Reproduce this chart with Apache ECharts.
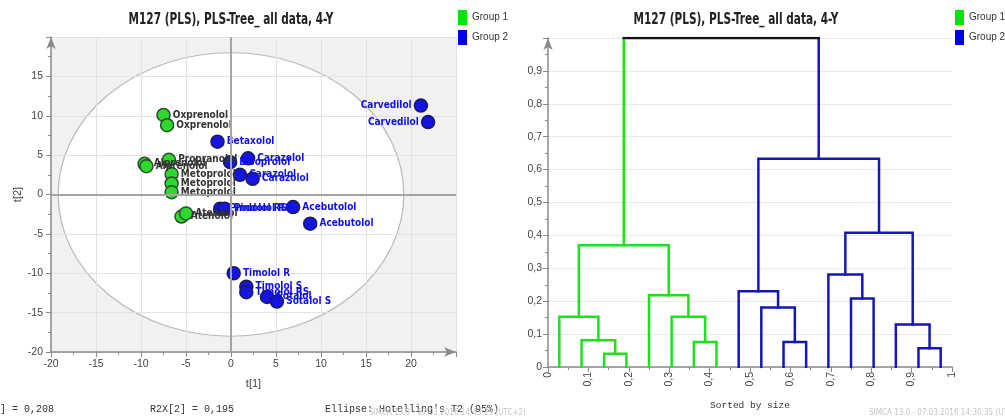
<!DOCTYPE html>
<html><head><meta charset="utf-8">
<script src="https://cdn.jsdelivr.net/npm/echarts@6/dist/echarts.min.js"></script>
<style>html,body{margin:0;padding:0;background:#fff}#c{width:1005px;height:419px}</style>
</head><body><div id="c"></div>
<script>
// ---- Score plot data (t[1], t[2]) ----
var g1Names = ['Oxprenolol','Oxprenolol','Alprenolol','Alprenolol','Propranolol','Metoprolol','Metoprolol','Metoprolol','Atenolol','Atenolol'];
var g1T1 = [-7.5,-7.1,-9.6,-9.4,-6.9,-6.6,-6.6,-6.6,-5.5,-5.0];
var g1T2 = [10.1,8.8,3.9,3.6,4.4,2.6,1.4,0.3,-2.8,-2.4];
var g2Names = ['Carvedilol','Carvedilol','Betaxolol','Bisoprolol','Carazolol','Carazolol','Carazolol','Pindolol RS','Pindolol RS','Acebutolol','Acebutolol','Timolol R','Timolol S','Timolol RS','Sotalol','Sotalol S'];
var g2T1 = [21.1,21.9,-1.5,-0.1,1.9,1.0,2.4,-1.2,-0.7,6.9,8.8,0.3,1.7,1.7,4.0,5.1];
var g2T2 = [11.3,9.2,6.7,4.1,4.6,2.5,2.0,-1.8,-1.8,-1.6,-3.7,-10.0,-11.7,-12.4,-13.0,-13.6];
var ellipseCenter = [0,0];
var ellipseRadii = [19.2,18];
// ---- Dendrogram data ----
var leafX = [0.028,0.083,0.139,0.194,0.25,0.306,0.361,0.417,0.472,0.528,0.583,0.639,0.694,0.75,0.806,0.861,0.917,0.972];
// [childA, childB, height, group] ; new node index = 18 + row
var merges = [
  [2,3,0.040,1],[1,18,0.081,1],[0,19,0.153,1],[6,7,0.076,1],[5,21,0.153,1],[4,22,0.218,1],[20,23,0.370,1],
  [10,11,0.076,2],[9,25,0.181,2],[8,26,0.230,2],[13,14,0.208,2],[12,28,0.281,2],[16,17,0.057,2],[15,30,0.129,2],
  [29,31,0.408,2],[27,32,0.633,2],[24,33,1.0,0]
];
var titleText = 'M127 (PLS), PLS-Tree_ all data, 4-Y';

var FONT = "'Liberation Sans',Arial,sans-serif";
var CFONT = "'DejaVu Sans Condensed','Liberation Sans',sans-serif";
var MONO = "'Liberation Mono','DejaVu Sans Mono',monospace";
var GREEN = '#1fe01f', BLUE = '#1616b8';

var nodeX = leafX.slice(), nodeH = leafX.map(function(){return 0;}), nodeG = leafX.map(function(_,i){return i<8?1:2;});
var dendroLines = {1:[],2:[],0:[]};
merges.forEach(function(m){
  var a=m[0], b=m[1], h=m[2];
  var xa=nodeX[a], xb=nodeX[b];
  if (m[3]===0) {
    dendroLines[nodeG[a]].push({coords:[[xa,nodeH[a]],[xa,h]]});
    dendroLines[nodeG[b]].push({coords:[[xb,nodeH[b]],[xb,h]]});
    dendroLines[0].push({coords:[[xa,h],[xb,h]]});
  } else {
    dendroLines[m[3]].push({coords:[[xa,nodeH[a]],[xa,h],[xb,h],[xb,nodeH[b]]]});
  }
  nodeX.push((xa+xb)/2); nodeH.push(h); nodeG.push(m[3]);
});

function pts(n,x,y){return n.map(function(nm,i){return {name:nm,value:[x[i],y[i]]};});}
var g1Data = pts(g1Names,g1T1,g1T2);
var g2Data = pts(g2Names,g2T1,g2T2).map(function(d){
  if (d.name==='Carvedilol') d.label={position:'left'};
  return d;
});

function comma(v){return String(+v.toFixed(1)).replace('.',',');}
var axisLbl = {color:'#444',fontSize:10.5,fontFamily:FONT};
var legendData = [{name:'Group 1',itemStyle:{color:'#00e600',borderWidth:0}},{name:'Group 2',itemStyle:{color:'#0000e6',borderWidth:0}}];

// horizontally condensed title (the reference is squeezed)
var TFONT = "bold 16px 'DejaVu Sans'";
var mctx = document.createElement('canvas').getContext('2d');
mctx.font = TFONT;
var titleScale = 205 / mctx.measureText(titleText).width;
function titleEl(cx){
  return {type:'text',x:cx,y:20,scaleX:titleScale,scaleY:1,
    style:{text:titleText,font:TFONT,fill:'#222',align:'center',verticalAlign:'middle'}};
}
function legendOpt(left){
  return {left:left,top:10,padding:0,orient:'vertical',icon:'rect',itemWidth:9,itemHeight:15,itemGap:5,
    data:legendData,textStyle:{fontSize:10,color:'#333',fontFamily:FONT}};
}

var chart = echarts.init(document.getElementById('c'),null,{renderer:'canvas'});
chart.setOption({
  animation:false,
  legend:[legendOpt(458),legendOpt(955)],
  grid:[
    {left:51,top:37,width:405,height:315,show:true,backgroundColor:'#f1f1f1',borderWidth:0,z:-5},
    {left:548,top:38,width:404,height:329,show:false}
  ],
  xAxis:[
    {gridIndex:0,type:'value',min:-20,max:25,interval:5,
     name:'t[1]',nameLocation:'middle',nameGap:26,nameTextStyle:{color:'#444',fontSize:11,fontFamily:FONT},
     axisLine:{show:true,onZero:false,symbol:['none','arrow'],symbolSize:[7,12],lineStyle:{color:'#8a8a8a',width:1.5}},
     axisTick:{show:true,length:5,lineStyle:{color:'#8a8a8a'}},minorTick:{show:true,splitNumber:2,length:3,lineStyle:{color:'#8a8a8a'}},
     axisLabel:Object.assign({margin:7,formatter:function(v){return v>20?'':String(v);}},axisLbl),
     splitLine:{show:true,lineStyle:{color:'#e2e2e2',width:1}}},
    {gridIndex:1,type:'value',min:0,max:1,interval:0.1,
     name:'Sorted by size',nameLocation:'middle',nameGap:33,nameTextStyle:{color:'#333',fontSize:9.5,fontFamily:MONO},
     axisLine:{show:true,onZero:false,lineStyle:{color:'#8a8a8a',width:1.5}},
     axisTick:{show:true,length:5,lineStyle:{color:'#8a8a8a'}},minorTick:{show:true,splitNumber:2,length:3,lineStyle:{color:'#8a8a8a'}},
     axisLabel:Object.assign({margin:5,rotate:90,formatter:comma},axisLbl),
     splitLine:{show:false}}
  ],
  yAxis:[
    {gridIndex:0,type:'value',min:-20,max:20,interval:5,
     name:'t[2]',nameLocation:'middle',nameGap:24,nameTextStyle:{color:'#444',fontSize:11,fontFamily:FONT},
     axisLine:{show:true,onZero:false,symbol:['none','arrow'],symbolSize:[7,12],lineStyle:{color:'#8a8a8a',width:1.5}},
     axisTick:{show:true,length:5,lineStyle:{color:'#8a8a8a'}},minorTick:{show:true,splitNumber:2,length:3,lineStyle:{color:'#8a8a8a'}},
     axisLabel:Object.assign({margin:8,formatter:function(v){return v>=20?'':String(v);}},axisLbl),
     splitLine:{show:true,lineStyle:{color:'#e2e2e2',width:1}}},
    {gridIndex:1,type:'value',min:0,max:1,interval:0.1,
     axisLine:{show:true,onZero:false,symbol:['none','arrow'],symbolSize:[7,12],lineStyle:{color:'#8a8a8a',width:1.5}},
     axisTick:{show:true,length:5,lineStyle:{color:'#8a8a8a'}},minorTick:{show:true,splitNumber:2,length:3,lineStyle:{color:'#8a8a8a'}},
     axisLabel:Object.assign({margin:6,formatter:function(v){return v>=1?'':comma(v);}},axisLbl),
     splitLine:{show:true,lineStyle:{color:'#e8e8e8',width:1}}}
  ],
  series:[
    {type:'custom',xAxisIndex:0,yAxisIndex:0,z:-1,silent:true,clip:false,
     data:[[ellipseCenter[0],ellipseCenter[1],ellipseRadii[0],ellipseRadii[1]]],
     renderItem:function(params,api){
       var c=api.coord([api.value(0),api.value(1)]);
       var s=api.size([api.value(2),api.value(3)]);
       var rx=s[0], ry=s[1];
       var d='M'+(c[0]-rx)+','+c[1]+' A'+rx+','+ry+' 0 1,1 '+(c[0]+rx)+','+c[1]+' A'+rx+','+ry+' 0 1,1 '+(c[0]-rx)+','+c[1]+' Z';
       return {type:'path',shape:{pathData:d},style:{fill:'#ffffff',stroke:'#b8b8b8',lineWidth:1.2}};
     }},
    {name:'Group 1',type:'scatter',xAxisIndex:0,yAxisIndex:0,data:g1Data,symbolSize:13,z:3,
     itemStyle:{color:'#2fd82f',borderColor:'#26502a',borderWidth:1.5,opacity:1},
     label:{show:true,position:'right',distance:2,formatter:'{b}',color:'#333',fontSize:10,fontWeight:'bold',fontFamily:CFONT},
     markLine:{silent:true,symbol:'none',label:{show:false},lineStyle:{color:'#a4a4a4',width:2,type:'solid'},data:[{xAxis:0},{yAxis:0}]}},
    {name:'Group 2',type:'scatter',xAxisIndex:0,yAxisIndex:0,data:g2Data,symbolSize:13,z:3,
     itemStyle:{color:'#1414e4',borderColor:'#1c1c55',borderWidth:1.5,opacity:1},
     label:{show:true,position:'right',distance:2,formatter:'{b}',color:'#1010e6',fontSize:10,fontWeight:'bold',fontFamily:CFONT}},
    {name:'Group 1',type:'lines',coordinateSystem:'cartesian2d',xAxisIndex:1,yAxisIndex:1,polyline:true,
     lineStyle:{color:GREEN,width:2.5,opacity:1,cap:'square'},data:dendroLines[1]},
    {name:'Group 2',type:'lines',coordinateSystem:'cartesian2d',xAxisIndex:1,yAxisIndex:1,polyline:true,
     lineStyle:{color:BLUE,width:2.5,opacity:1,cap:'square'},data:dendroLines[2]},
    {type:'lines',coordinateSystem:'cartesian2d',xAxisIndex:1,yAxisIndex:1,polyline:true,
     lineStyle:{color:'#111',width:2.5,opacity:1,cap:'square'},data:dendroLines[0]}
  ],
  graphic:[
    titleEl(231), titleEl(736),
    {type:'text',left:0,top:404,style:{text:'] = 0,208',fill:'#333',font:'10px '+MONO}},
    {type:'text',left:150,top:404,style:{text:'R2X[2] = 0,195',fill:'#333',font:'10px '+MONO}},
    {type:'text',left:325,top:404,style:{text:"Ellipse: Hotelling's T2 (95%)",fill:'#333',font:'10px '+MONO}},
    {type:'text',left:369,top:409,style:{text:'SIMCA 13.0 - 07.03.2016 14:43:29 (UTC+2)',fill:'#c4c4c4',font:'8px '+CFONT}},
    {type:'text',left:869,top:409,style:{text:'SIMCA 13.0 - 07.03.2016 14:30:35 (UTC+2)',fill:'#c4c4c4',font:'8px '+CFONT}}
  ]
});
</script></body></html>
